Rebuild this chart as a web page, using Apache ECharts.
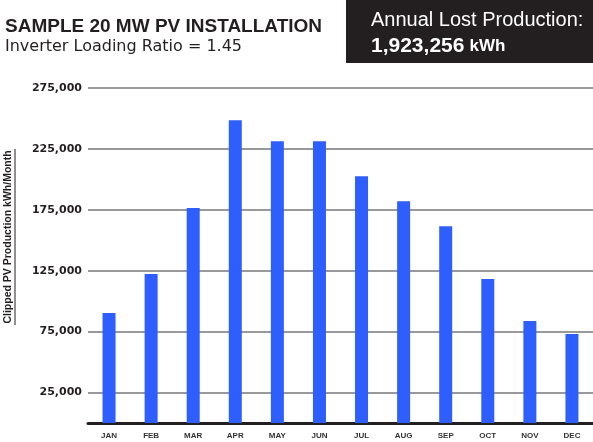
<!DOCTYPE html>
<html>
<head>
<meta charset="utf-8">
<script src="https://cdn.jsdelivr.net/npm/echarts@6/dist/echarts.min.js"></script>
<style>
  html, body { margin: 0; padding: 0; background: #fff; }
  #main { width: 593px; height: 442px; }
</style>
</head>
<body>
<div id="main"></div>
<script>
// monthly clipped production, kWh
const months = ['JAN', 'FEB', 'MAR', 'APR', 'MAY', 'JUN', 'JUL', 'AUG', 'SEP', 'OCT', 'NOV', 'DEC'];
const clipped = [90300, 122300, 176400, 248500, 231300, 231300, 202600, 182100, 161600, 118200, 83800, 73100];
const yTicks = [25000, 75000, 125000, 175000, 225000, 275000];
const totalLost = '1,923,256';

const chart = echarts.init(document.getElementById('main'));

const option = {
    animation: false,
    title: [
        {
            text: 'SAMPLE 20 MW PV INSTALLATION',
            left: 5,
            top: 17,
            padding: 0,
            textStyle: { fontFamily: 'Liberation Sans', fontWeight: 'bold', fontSize: 19, color: '#231f20' }
        },
        {
            text: 'Inverter Loading Ratio = 1.45',
            left: 5,
            top: 39,
            padding: 0,
            textStyle: { fontFamily: 'DejaVu Sans', fontWeight: 'normal', fontSize: 16, color: '#231f20' }
        },
        {
            text: 'Annual Lost Production:',
            left: 371,
            top: 10,
            padding: 0,
            textStyle: { fontFamily: 'Liberation Sans', fontWeight: 'normal', fontSize: 20, color: '#fff' }
        },
        {
            text: '{n|' + totalLost + '} {u|kWh}',
            left: 371,
            top: 36,
            padding: 0,
            textStyle: {
                rich: {
                    n: { fontFamily: 'Liberation Sans', fontWeight: 'bold', fontSize: 21, color: '#fff' },
                    u: { fontFamily: 'Liberation Sans', fontWeight: 'bold', fontSize: 17, color: '#fff' }
                }
            }
        }
    ],
    graphic: [
        {
            type: 'rect',
            left: 346,
            top: 0,
            z: -1,
            shape: { width: 247, height: 63 },
            style: { fill: '#231f20' }
        },
        {
            // y axis title, underlined
            type: 'text',
            x: 8.5,
            y: 237,
            rotation: Math.PI / 2,
            style: {
                text: 'Clipped PV Production kWh/Month',
                fontFamily: 'Liberation Sans',
                fontWeight: 'bold',
                fontSize: 10.5,
                fill: '#231f20',
                align: 'center',
                verticalAlign: 'middle'
            }
        },
        {
            type: 'line',
            shape: { x1: 15, y1: 149, x2: 15, y2: 325 },
            style: { stroke: '#231f20', lineWidth: 1 }
        }
    ],
    grid: {
        left: 88,
        right: 0,
        top: 88,
        bottom: 19
    },
    xAxis: {
        type: 'category',
        data: months,
        axisTick: { show: false },
        axisLine: { lineStyle: { color: '#231f20', width: 3 } },
        axisLabel: {
            margin: 9,
            fontFamily: 'Liberation Sans',
            fontWeight: 'bold',
            fontSize: 8,
            color: '#333'
        }
    },
    yAxis: {
        type: 'value',
        min: 0,
        max: 275000,
        interval: 25000,
        axisLine: { show: false },
        axisTick: { show: false },
        axisLabel: {
            margin: 6,
            fontFamily: 'DejaVu Sans',
            fontWeight: 'bold',
            fontSize: 11,
            color: '#231f20',
            formatter: v => yTicks.includes(v) ? v.toLocaleString('en-US') : ''
        },
        splitLine: {
            lineStyle: { color: ['rgba(0,0,0,0)', '#777'], width: 1.5 }
        }
    },
    series: [
        {
            type: 'bar',
            data: clipped,
            barWidth: 13,
            itemStyle: { color: '#2f5eff' }
        }
    ]
};

chart.setOption(option);
</script>
</body>
</html>
